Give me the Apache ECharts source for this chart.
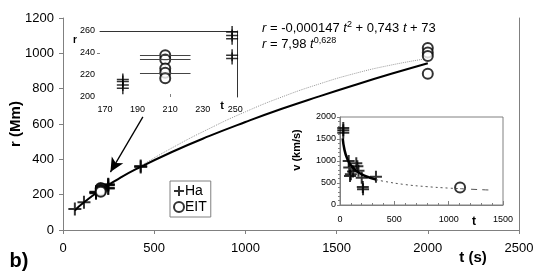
<!DOCTYPE html>
<html><head><meta charset="utf-8">
<script src="https://cdn.jsdelivr.net/npm/echarts@6/dist/echarts.min.js"></script>
<style>html,body{margin:0;padding:0;background:#fff}#c{width:540px;height:280px}</style>
</head><body><div id="c"></div>
<script>
// ---- data ----
const haT = [65, 115, 181, 181, 181, 181, 248, 248, 248, 248, 248, 426, 426];
const haR = [119, 157, 216, 214, 211, 208, 259, 256, 253, 238, 235, 362, 357];
const eitT = [207, 207, 207, 207, 207, 2000, 2000, 2000, 2000];
const eitR = [238, 234, 226, 222, 217, 1030, 1005, 985, 885];
const powT = [65, 100, 200, 300, 400, 600, 800, 1000, 1200, 1400, 1600, 1800, 2000];
const powR = [110, 144, 222, 287, 344, 443, 531, 611, 686, 755, 821, 884, 944];
const quadT = [65, 100, 200, 300, 400, 600, 800, 1000, 1200, 1400, 1600, 1800, 2000];
const quadR = [121, 146, 216, 283, 347, 466, 573, 669, 753, 825, 886, 934, 971];
const errT = [207, 207, 207];
const errR = [238, 234, 222];
const errHalf = 15.5;
const vHaT = [30, 30, 30, 80, 85, 92, 100, 120, 150, 160, 170, 200, 210, 212, 331];
const vHaV = [1750, 1700, 1640, 1000, 850, 660, 700, 760, 950, 880, 780, 620, 410, 360, 643];
const vEitT = [1105];
const vEitV = [400];
const vFitT = [25, 40, 65, 100, 150, 200, 250, 333];
const vFitV = [1513, 1270, 1061, 904, 777, 698, 642, 577];
const vDotT = [333, 400, 600, 800, 1000, 1105];
const vDotV = [577, 540, 464, 417, 384, 372];
const vDashT = [1105, 1200, 1400];
const vDashV = [372, 359, 338];
const insetXLabels = [170, 190, 210, 230, 250];
const insetYLabels = [200, 220, 240, 260];
const arrowFrom = [438, 640];
const arrowTo = [260, 328];

const zip = (a, b) => a.map((v, i) => [v, b[i]]);
const FONT = 'Liberation Sans, Arial, sans-serif';
const cross = 'path://M0,6L12,6M6,0L6,12';
const grey = '#808080';
const plain = v => String(v);

const chart = echarts.init(document.getElementById('c'));
chart.setOption({
  animation: false,
  textStyle: {fontFamily: FONT, color: '#000'},
  grid: [
    {left: 63, right: 21, top: 18, bottom: 50},
    {left: 100, right: 303, top: 31, bottom: 183},
    {left: 340, right: 37, top: 117, bottom: 75, show: true, borderColor: grey, borderWidth: 1, backgroundColor: '#fff'}
  ],
  xAxis: [
    {gridIndex: 0, type: 'value', min: 0, max: 2500, interval: 500,
     axisLine: {lineStyle: {color: grey}}, axisTick: {length: 4, lineStyle: {color: grey}},
     axisLabel: {fontSize: 13, margin: 12, color: '#000', formatter: plain}, splitLine: {show: false}},
    {gridIndex: 1, type: 'value', min: 167, max: 251,
     axisLine: {show: false},
     axisTick: {show: true, inside: true, length: 3, customValues: [210], lineStyle: {color: grey}},
     axisLabel: {fontSize: 9, margin: 8, color: '#000', customValues: insetXLabels, formatter: plain}, splitLine: {show: false}},
    {gridIndex: 1, type: 'value', min: 167, max: 251, position: 'top',
     axisLine: {show: true, lineStyle: {color: '#333'}}, axisTick: {show: false}, axisLabel: {show: false}, splitLine: {show: false}},
    {gridIndex: 2, type: 'value', min: 0, max: 1500, interval: 500,
     axisLine: {lineStyle: {color: grey}},
     axisTick: {inside: true, length: 4, lineStyle: {color: grey}},
     minorTick: {show: true, splitNumber: 5, length: 2, lineStyle: {color: grey}},
     axisLabel: {fontSize: 9, margin: 10, color: '#000', formatter: plain}, splitLine: {show: false}}
  ],
  yAxis: [
    {gridIndex: 0, type: 'value', min: 0, max: 1200, interval: 200,
     axisLine: {show: true, lineStyle: {color: grey}}, axisTick: {show: true, length: 4, lineStyle: {color: grey}},
     axisLabel: {fontSize: 13, margin: 9, color: '#000', formatter: plain}, splitLine: {show: false}},
    {gridIndex: 0, type: 'value', min: 0, max: 1200, position: 'right',
     axisLine: {show: true, lineStyle: {color: grey}}, axisTick: {show: false}, axisLabel: {show: false}, splitLine: {show: false}},
    {gridIndex: 1, type: 'value', min: 200, max: 260,
     axisLine: {show: false},
     axisTick: {show: true, length: 3, customValues: [240], lineStyle: {color: grey}},
     axisLabel: {fontSize: 9, margin: 5, color: '#000', customValues: insetYLabels, formatter: plain}, splitLine: {show: false}},
    {gridIndex: 1, type: 'value', min: 200, max: 260, position: 'right',
     axisLine: {show: true, lineStyle: {color: '#333'}}, axisTick: {show: false}, axisLabel: {show: false}, splitLine: {show: false}},
    {gridIndex: 2, type: 'value', min: 0, max: 2000, interval: 500,
     axisLine: {show: true, lineStyle: {color: grey}}, axisTick: {show: true, length: 3, lineStyle: {color: grey}},
     minorTick: {show: true, splitNumber: 5, length: 2, lineStyle: {color: grey}},
     axisLabel: {fontSize: 9, margin: 4, color: '#000', formatter: plain}, splitLine: {show: false}}
  ],
  legend: {
    left: 170, top: 181, orient: 'vertical', itemGap: 2, padding: [3, 4, 3, 3],
    borderColor: grey, borderWidth: 1, itemWidth: 10, itemHeight: 10,
    textStyle: {fontSize: 14, color: '#000', padding: [0, 0, 0, -4]},
    data: [{name: 'Ha', icon: cross}, {name: 'EIT', icon: 'emptyCircle'}]
  },
  series: [
    {type: 'line', name: 'quad', xAxisIndex: 0, yAxisIndex: 0, data: zip(quadT, quadR), smooth: true,
     symbol: 'none', lineStyle: {color: '#999', width: 1, type: 'dotted'}, z: 2},
    {type: 'line', name: 'pow', xAxisIndex: 0, yAxisIndex: 0, data: zip(powT, powR), smooth: true,
     symbol: 'none', lineStyle: {color: '#000', width: 2}, z: 3,
     markLine: {silent: true, symbol: ['none', 'arrow'], symbolSize: [10, 14],
       lineStyle: {color: '#000', width: 1.3, type: 'solid'}, label: {show: false},
       data: [[{coord: arrowFrom}, {coord: arrowTo}]]}},
    {type: 'scatter', name: 'Ha', xAxisIndex: 0, yAxisIndex: 0, data: zip(haT, haR), symbol: cross, symbolSize: 13,
     itemStyle: {color: '#000', borderColor: '#000', borderWidth: 2}, z: 4},
    {type: 'scatter', name: 'EIT', xAxisIndex: 0, yAxisIndex: 0, data: zip(eitT, eitR), symbol: 'emptyCircle', symbolSize: 10,
     itemStyle: {color: '#000', borderColor: '#000', borderWidth: 1.5}, z: 4},
    // inset 1
    {type: 'scatter', name: 'Ha', xAxisIndex: 1, yAxisIndex: 2, data: zip(haT, haR), symbol: cross, symbolSize: 12,
     itemStyle: {color: '#000', borderColor: '#000', borderWidth: 1.5}, clip: true},
    {type: 'scatter', name: 'EIT', xAxisIndex: 1, yAxisIndex: 2, data: zip(eitT, eitR), symbol: 'emptyCircle', symbolSize: 10,
     itemStyle: {color: '#000', borderColor: '#000', borderWidth: 1.5}, clip: true,
     markLine: {silent: true, symbol: 'none', label: {show: false}, lineStyle: {color: '#444', width: 1, type: 'solid'},
       data: errT.map((t, i) => [{coord: [t - errHalf, errR[i]]}, {coord: [t + errHalf, errR[i]]}])}},
    // inset 2
    {type: 'line', name: 'vfit', xAxisIndex: 3, yAxisIndex: 4, data: zip(vFitT, vFitV), smooth: true,
     symbol: 'none', lineStyle: {color: '#000', width: 2.5}},
    {type: 'line', name: 'vdot', xAxisIndex: 3, yAxisIndex: 4, data: zip(vDotT, vDotV), smooth: true,
     symbol: 'none', lineStyle: {color: '#555', width: 1, type: [2, 3]}},
    {type: 'line', name: 'vdash', xAxisIndex: 3, yAxisIndex: 4, data: zip(vDashT, vDashV), smooth: true,
     symbol: 'none', lineStyle: {color: '#555', width: 1, type: [6, 5]}},
    {type: 'scatter', name: 'Ha', xAxisIndex: 3, yAxisIndex: 4, data: zip(vHaT, vHaV), symbol: cross, symbolSize: 12,
     itemStyle: {color: '#000', borderColor: '#000', borderWidth: 2}},
    {type: 'scatter', name: 'EIT', xAxisIndex: 3, yAxisIndex: 4, data: zip(vEitT, vEitV), symbol: 'emptyCircle', symbolSize: 10,
     itemStyle: {color: '#000', borderColor: '#000', borderWidth: 1.5}}
  ],
  graphic: [
    {type: 'text', x: 16, y: 124, rotation: Math.PI / 2,
     style: {text: 'r (Mm)', font: 'bold 15px ' + FONT, fill: '#000', align: 'center', verticalAlign: 'middle'}},
    {type: 'text', x: 473, y: 258,
     style: {text: 't (s)', font: 'bold 15px ' + FONT, fill: '#000', align: 'center', verticalAlign: 'middle'}},
    {type: 'text', x: 19, y: 261,
     style: {text: 'b)', font: 'bold 20px ' + FONT, fill: '#000', align: 'center', verticalAlign: 'middle'}},
    {type: 'text', x: 75, y: 40,
     style: {text: 'r', font: 'bold 10px ' + FONT, fill: '#000', align: 'center', verticalAlign: 'middle'}},
    {type: 'text', x: 222, y: 106,
     style: {text: 't', font: 'bold 11px ' + FONT, fill: '#000', align: 'center', verticalAlign: 'middle'}},
    {type: 'text', x: 474, y: 222,
     style: {text: 't', font: 'bold 12px ' + FONT, fill: '#000', align: 'center', verticalAlign: 'middle'}},
    {type: 'text', x: 297, y: 150, rotation: Math.PI / 2,
     style: {text: 'v (km/s)', font: 'bold 11px ' + FONT, fill: '#000', align: 'center', verticalAlign: 'middle'}},
    {type: 'text', x: 262, y: 28,
     style: {text: '{i|r} = -0,000147 {i|t}{s|2} + 0,743 {i|t} + 73', font: '13px ' + FONT, fill: '#000', verticalAlign: 'middle',
       rich: {i: {fontStyle: 'italic', fontSize: 13, fontFamily: FONT}, s: {fontSize: 9, fontFamily: FONT, padding: [0, 0, 7, 0]}}}},
    {type: 'text', x: 262, y: 44,
     style: {text: '{i|r} = 7,98 {i|t}{s|0,628}', font: '13px ' + FONT, fill: '#000', verticalAlign: 'middle',
       rich: {i: {fontStyle: 'italic', fontSize: 13, fontFamily: FONT}, s: {fontSize: 9, fontFamily: FONT, padding: [0, 0, 7, 0]}}}}
  ]
});
</script>
</body></html>
